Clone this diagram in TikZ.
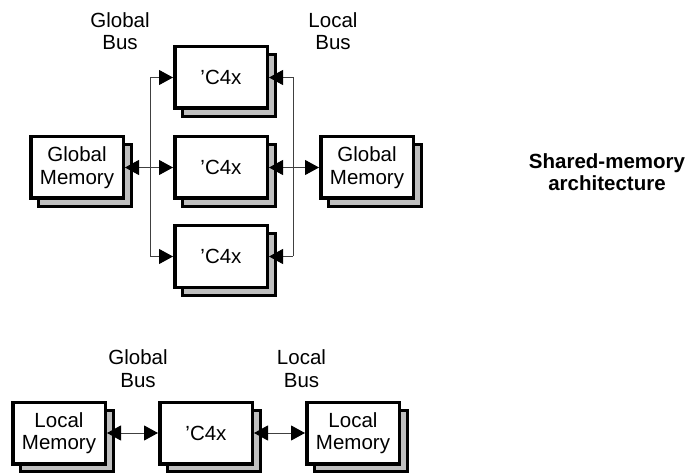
\documentclass[tikz,border=0pt]{standalone}
\usepackage{fontspec}
\setmainfont{Liberation Sans}
\usetikzlibrary{arrows.meta,shadows}
\begin{document}
\begin{tikzpicture}[x=1pt,y=-1pt,
  box/.style={draw=black, line width=3.5pt, fill=white, minimum width=92.5pt, minimum height=61.5pt,
    inner sep=0pt, align=center, font=\fontsize{20.5}{22.5}\selectfont,
    copy shadow={shadow xshift=8pt, shadow yshift=-8pt, fill=black!25, draw=black, line width=3pt}},
  lbl/.style={align=center, inner sep=0pt, font=\fontsize{20.5}{22.5}\selectfont},
  conn/.style={draw=black!75, line width=1pt},
  tipend/.style={-{Triangle[length=14pt,width=15pt,color=black]}},
  tipboth/.style={{Triangle[length=14pt,width=15pt,color=black]}-{Triangle[length=14pt,width=15pt,color=black]}}
]
\useasboundingbox (0,0) rectangle (691,473);

% top group
\node[box] (c1) at (221,77.5) {'C4x};
\node[box] (c2) at (221,167.5) {'C4x};
\node[box] (c3) at (221,256.5) {'C4x};
\node[box] (gm1) at (77,167.5) {Global\\Memory};
\node[box] (gm2) at (367,167.5) {Global\\Memory};

\node[lbl] (gbl) at (120,31) {Global\\Bus};
\node[lbl] (lbl1) at (333,31) {Local\\Bus};
\node[lbl, font=\fontsize{20.5}{22.5}\selectfont\bfseries] (title) at (607,172) {Shared-memory\\architecture};

\coordinate (gx) at (150,0);
\coordinate (lx) at (293,0);

\draw[conn] (c1.west -| gx) -- (c3.west -| gx);
\draw[conn] (c1.east -| lx) -- (c3.east -| lx);
\draw[conn, tipend] (c1.west -| gx) -- (c1.west);
\draw[conn, tipend] (c3.west -| gx) -- (c3.west);
\draw[conn, tipboth] (gm1.east) -- (c2.west);
\draw[conn, tipend] (c1.east -| lx) -- (c1.east);
\draw[conn, tipend] (c3.east -| lx) -- (c3.east);
\draw[conn, tipboth] (c2.east) -- (gm2.west);

% bottom group
\node[box] (lm1) at (59,433) {Local\\Memory};
\node[box] (c4) at (206,433) {'C4x};
\node[box] (lm2) at (353,433) {Local\\Memory};

\node[lbl] (gbl2) at (138,368.5) {Global\\Bus};
\node[lbl] (lbl2) at (301.5,368.5) {Local\\Bus};

\draw[conn, tipboth] (lm1.east) -- (c4.west);
\draw[conn, tipboth] (c4.east) -- (lm2.west);
\end{tikzpicture}
\end{document}
